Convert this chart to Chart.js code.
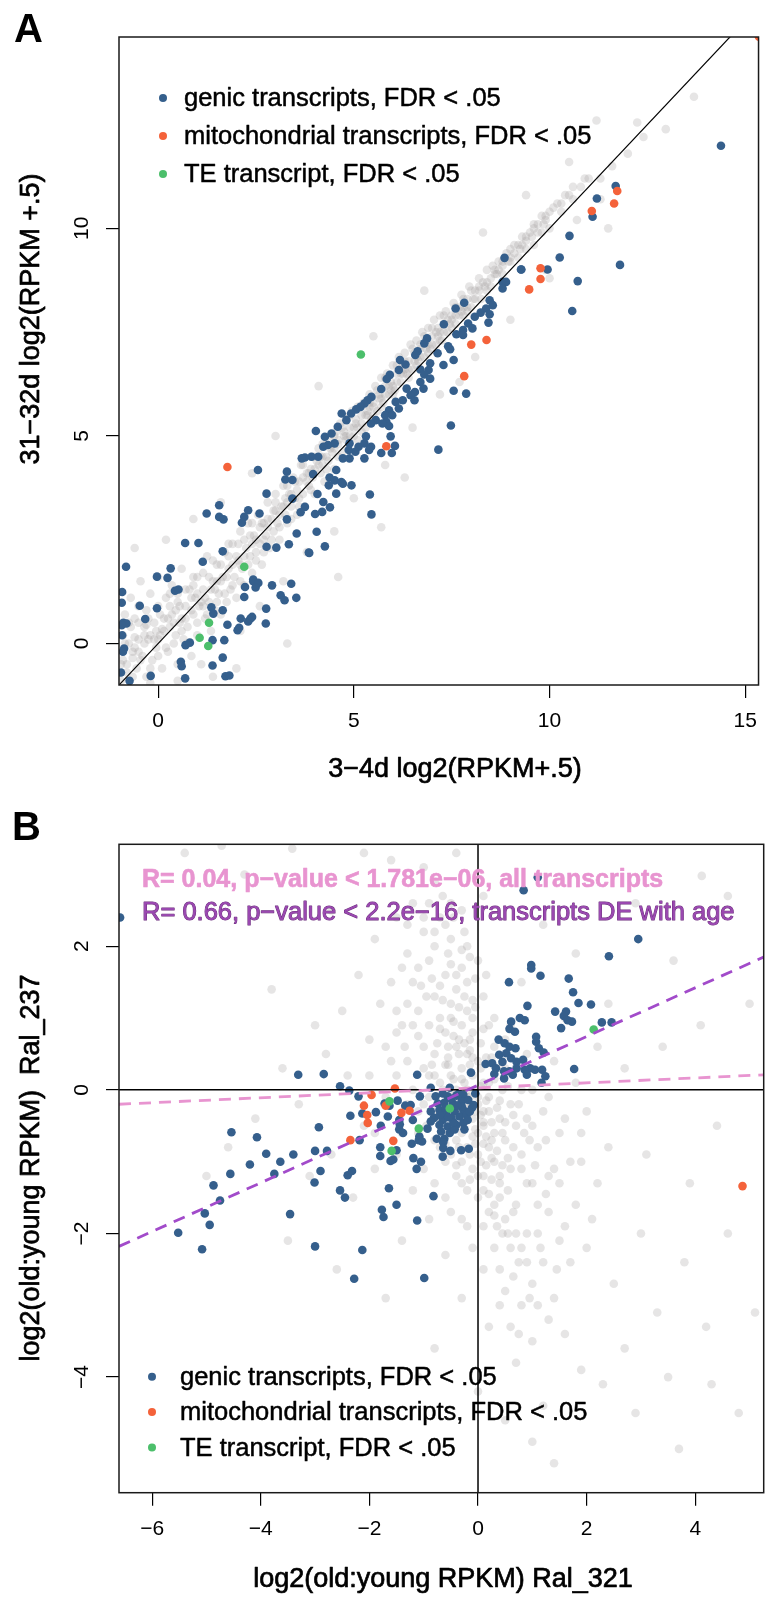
<!DOCTYPE html>
<html>
<head>
<meta charset="utf-8">
<script src="https://cdn.jsdelivr.net/npm/chart.js@4.4.0/dist/chart.umd.min.js"></script>
<style>
  body { margin: 0; background: #fff; width: 768px; height: 1599px; position: relative; overflow: hidden; }
  canvas { position: absolute; left: 0; }
  #chartA { top: 0; }
  #chartB { top: 800px; }
</style>
</head>
<body>
<canvas id="chartA" width="768" height="800"></canvas>
<canvas id="chartB" width="768" height="799"></canvas>
<script>
const FONT = '"Liberation Sans", Arial, Helvetica, sans-serif';
const MINUS = '\u2212';

const BLUE = '#355f8c';
const ORANGE = '#f4623a';
const GREEN = '#4cbf6b';
const GREY = 'rgba(166,162,162,0.28)';
const PINK = '#e894d0';
const PURPLE = '#a24bca';

const legendLabels = ['genic transcripts, FDR < .05', 'mitochondrial transcripts, FDR < .05', 'TE transcript, FDR < .05'];

// ---------- panel A : 3-4d vs 31-32d ----------
const xTicksA = [0, 5, 10, 15];
const yTicksA = [0, 5, 10];
const xTitleA = '3\u22124d log2(RPKM+.5)';
const yTitleA = '31\u221232d log2(RPKM +.5)';

const diagA = [[-1, -1], [15.4, 15.4]];

const genicA = [
  [8.85,9.29],[9.28,9.01],[8.80,8.71],[8.89,8.71],[8.80,8.55],[7.82,8.21],[7.60,8.07],[8.47,8.27],[8.55,8.15],[8.38,8.07],
  [8.24,7.97],[8.09,7.87],[8.47,7.93],[7.92,7.71],[8.03,7.59],[7.79,7.55],[8.44,7.73],[7.30,7.69],[7.62,7.45],[7.79,7.43],
  [6.87,7.35],[6.80,7.23],[7.41,7.16],[7.46,7.09],[7.14,6.99],[6.63,7.04],[6.57,6.95],[7.55,6.83],[6.95,6.75],[6.18,6.83],
  [6.32,6.72],[6.15,6.59],[6.70,6.60],[6.91,6.59],[7.29,6.71],[6.80,6.48],[6.95,6.38],[5.92,6.47],[5.84,6.37],[6.70,6.30],
  [6.78,6.14],[6.56,6.06],[6.35,6.14],[6.45,5.98],[6.25,5.86],[6.55,5.86],[5.70,6.13],[7.55,6.09],[7.87,6.02],[5.45,5.94],
  [5.35,5.86],[5.27,5.78],[5.17,5.70],[5.06,5.64],[4.93,5.54],[4.81,5.38],[4.69,5.54],[4.59,5.22],[4.43,5.06],[4.26,4.98],
  [4.03,5.12],[6.07,5.82],[6.15,5.66],[5.90,5.62],[5.80,5.50],[5.98,5.50],[5.83,5.34],[5.90,5.24],[5.56,5.38],[5.44,5.30],
  [5.73,5.30],[7.48,5.25],[5.94,4.99],[6.05,4.76],[5.97,4.59],[5.70,4.59],[7.16,4.67],[5.31,4.99],[5.27,4.82],[5.44,4.74],
  [5.39,4.66],[5.12,4.74],[5.04,4.62],[5.27,4.46],[4.89,4.82],[4.87,4.66],[4.89,4.46],[4.72,4.46],[4.51,4.82],[4.34,4.78],
  [4.22,4.74],[4.09,4.50],[3.92,4.50],[3.75,4.48],[3.67,4.46],[3.96,4.08],[4.55,4.18],[4.38,4.00],[4.51,3.93],[4.68,3.89],
  [4.72,3.85],[4.36,3.81],[4.94,3.81],[3.29,4.14],[3.25,3.95],[3.43,3.94],[2.55,4.18],[2.77,3.61],[3.43,3.49],[4.07,3.60],
  [4.55,3.61],[4.22,3.41],[4.39,3.28],[5.41,3.59],[5.45,3.11],[4.19,3.17],[4.01,3.12],[3.75,3.29],[3.64,3.16],[3.29,2.99],
  [2.59,3.13],[2.30,3.21],[2.20,3.05],[2.14,2.91],[1.56,3.33],[1.56,3.05],[1.67,2.99],[1.24,3.13],[3.54,2.65],[4.05,2.69],
  [2.77,2.33],[3.02,2.31],[3.34,2.39],[3.85,2.19],[4.26,2.34],[1.65,2.22],[1.03,2.42],[0.69,2.42],[1.14,1.97],[0.32,1.81],
  [-0.03,1.61],[0.24,1.58],[-0.82,1.85],[2.43,1.54],
  [14.38,11.99],[11.69,11.02],[11.21,10.72],[11.10,10.28],[10.51,9.82],[10.26,9.30],[11.80,9.12],[9.95,9.01],[9.27,9.01],
  [10.72,8.73],[10.58,8.01],
  [-0.92,1.24],[-0.93,0.98],[-0.47,0.91],[-0.03,0.85],[-0.33,0.59],[-0.89,0.50],[-0.81,0.48],[-0.93,0.44],[-0.92,0.20],
  [-0.87,-0.12],[-0.90,-0.20],[-0.95,-0.70],[-0.73,-0.90],[-0.19,-0.78],[0.43,1.27],[0.52,1.30],[1.36,0.87],[1.41,0.72],
  [1.65,0.80],[2.11,0.60],[2.30,0.53],[2.36,0.60],[2.40,0.64],[1.77,0.45],[2.03,0.32],[2.07,0.38],[2.76,0.84],[2.75,0.48],
  [2.22,1.36],[2.43,1.50],[2.56,1.46],[2.49,1.35],[2.20,1.12],[2.91,1.40],[3.40,1.44],[3.13,1.16],[3.23,1.04],[3.53,1.10],
  [3.86,2.18],[0.70,-0.04],[0.81,0.02],[1.39,0.08],[1.69,0.08],[0.58,-0.44],[0.60,-0.55],[1.39,-0.53],[1.65,-0.34],
  [1.72,-0.79],[1.82,-0.77],[0.69,-0.84]
];

const mitoA = [
  [15.35,14.62],[11.73,10.90],[11.65,10.60],[11.08,10.42],[9.77,9.04],[9.77,8.78],[9.48,8.53],[8.39,7.31],[8.00,7.20],
  [7.82,6.44],[5.83,4.75],[1.77,4.25]
];

const teA = [[5.18,6.96],[2.20,1.85],[1.30,0.50],[1.06,0.14],[1.28,-0.06]];

const greyA = [
  [-0.95,-0.9],[-0.9,-0.4],[-0.9,0.2],[-0.85,0.7],[-0.8,-0.7],[-0.75,0.0],[-0.7,0.4],[-0.7,1.1],[-0.65,-0.2],[-0.6,0.6],
  [-0.55,-0.6],[-0.5,0.1],[-0.5,0.9],[-0.45,1.5],[-0.4,-0.3],[-0.35,0.4],[-0.3,-0.8],[-0.3,0.8],[-0.25,0.1],[-0.2,1.2],
  [-0.15,-0.4],[-0.1,0.5],[-0.05,-0.1],[0,0.9],[0,1.6],[0.05,0.2],[0.1,-0.6],[0.15,0.6],[0.2,1.1],[0.25,-0.2],
  [0.3,0.4],[0.35,1.4],[0.4,0.0],[0.45,0.8],[0.5,-0.5],[0.5,1.2],[0.55,0.5],[0.6,1.8],[0.65,0.1],[0.7,0.9],
  [0.75,0.4],[0.8,1.3],[0.85,-0.3],[0.9,0.7],[0.95,1.1],[1.0,0.2],[1.0,1.6],[1.05,0.9],[1.1,-0.5],[1.15,1.3],
  [1.2,0.6],[1.25,2.1],[1.3,1.0],[1.35,0.3],[1.4,1.5],[1.45,0.8],[1.5,1.9],
  [1.55,1.2],[1.6,0.7],[1.65,1.6],[1.7,2.2],[1.75,1.0],[1.8,1.8],[1.85,1.3],[1.9,2.4],[1.95,1.6],[2.0,1.1],
  [2.05,2.0],[2.1,2.7],[2.15,1.8],[2.2,1.4],[2.25,2.3],[2.3,2.9],[2.35,2.1],[2.4,1.7],[2.45,2.6],[2.5,2.2],
  [2.55,3.1],[2.6,2.4],[2.65,1.9],[2.7,2.9],[2.75,2.6],[2.8,3.4],[2.85,2.3],[2.9,3.0],[2.95,2.7],[3.0,3.6],
  [3.05,2.9],[3.1,2.5],[3.15,3.3],[3.2,3.8],[3.25,3.1],[3.3,2.9],[3.35,3.6],[3.4,3.3],[3.45,4.0],[3.5,3.5],
  [3.55,3.1],[3.6,3.9],[3.65,4.3],[3.7,3.6],[3.75,3.3],[3.8,4.1],[3.85,3.8],[3.9,4.5],[3.95,4.0],[4.0,3.6],
  [4.05,4.4],[4.1,4.7],[4.15,4.1],[4.2,4.5],[4.25,3.9],[4.3,4.8],[4.35,4.4],[4.4,5.0],[4.45,4.6],[4.5,4.2],
  [4.55,5.1],[4.6,4.8],[4.65,5.3],[4.7,4.6],[4.75,5.0],[4.8,5.4],[4.85,4.7],[4.9,5.2],[4.95,5.6],[5.0,5.0],
  [5.05,5.4],[5.1,4.9],[5.15,5.7],[5.2,5.3],[5.25,5.8],[5.3,5.2],[5.35,5.6],[5.4,6.0],[5.45,5.4],[5.5,5.8],
  [5.55,6.2],[5.6,5.6],[5.65,6.0],[5.7,6.4],[5.75,5.8],[5.8,6.2],[5.85,6.5],[5.9,6.0],[5.95,6.3],[6.0,6.7],
  [6.05,6.1],[6.1,6.5],[6.15,6.9],[6.2,6.3],[6.25,6.7],[6.3,7.0],[6.35,6.5],[6.4,6.8],[6.45,7.2],[6.5,6.6],
  [6.55,7.0],[6.6,7.3],[6.65,6.8],[6.7,7.1],[6.75,7.5],[6.8,6.9],[6.85,7.3],[6.9,7.6],[6.95,7.1],[7.0,7.4],
  [7.05,7.8],[7.1,7.2],[7.15,7.6],[7.2,7.9],[7.25,7.3],[7.3,7.7],[7.35,8.0],[7.4,7.5],[7.5,7.9],[7.55,8.2],
  [7.6,7.7],[7.7,8.1],[7.75,8.4],[7.8,7.9],[7.9,8.3],[7.95,8.6],[8.0,8.1],
  [8.1,8.5],[8.2,8.8],[8.25,8.3],[8.3,8.7],[8.4,9.0],[8.5,8.6],[8.55,9.1],[8.6,8.9],[8.7,9.2],[8.8,8.9],
  [8.9,9.4],[9.0,9.2],[9.1,9.6],[9.2,9.3],[9.3,9.8],[9.4,9.5],[9.5,9.9],[9.6,9.6],[9.7,10.1],[9.8,9.9],
  [9.9,10.3],[10.0,10.0],[10.1,10.5],[10.3,10.4],[10.4,10.8],[10.6,10.7],[10.8,11.0],[11.0,11.2],[11.3,11.2],[11.6,11.5],
  [12.0,11.8],[12.4,12.2],[12.97,12.39],[12.24,12.55],[13.69,13.17],[11.3,10.7],[10.7,10.2],
  [-0.6,2.3],[0.2,2.5],[0.9,3.0],[1.6,3.4],[2.4,4.1],[1.4,-0.8],[2.1,0.3],[2.6,0.9],[3.2,1.5],[3.8,2.2],
  [4.5,2.7],[5.0,3.5],[5.8,4.3],[6.5,5.2],[7.2,6.0],[8.1,6.9],[9.0,7.8],[10.0,8.8],[11.5,10.0],[3.0,5.0],
  [4.1,6.2],[5.5,7.4],[6.8,8.5],[8.3,9.9],[9.4,10.8],[10.5,11.6],[11.2,12.6],[2.0,-0.6],[3.3,0.0],[4.6,1.6],
  [5.7,2.8],[0.5,-0.9],[-0.2,-0.95],[7.7,6.3],[9.9,9.0],[6.3,4.0],
  [-0.8,-0.5],[-0.65,-0.35],[-0.5,-0.2],[-0.35,0.0],[-0.2,0.2],[-0.05,0.3],[0.1,0.35],[0.25,0.6],[0.4,0.5],[0.55,0.9],
  [0.7,0.6],[0.85,1.1],[1.0,1.2],[1.15,0.9],[1.3,1.6],[1.45,1.3],[1.6,1.9],[1.75,1.6],[1.9,1.9],[2.05,2.4],
  [2.2,2.1],[2.35,2.6],[2.5,2.5],[2.65,2.9],[2.8,2.8],[2.95,3.2],[3.1,3.1],[3.25,3.5],[3.4,3.6],[3.55,3.7],
  [3.7,4.0],[3.85,4.1],[4.0,4.2],[4.15,4.5],[4.3,4.5],[4.45,4.8],[4.6,4.9],[4.75,5.1],[4.9,5.0],[5.05,5.3],
  [5.2,5.5],[5.35,5.5],[5.5,5.7],[5.65,5.9],[5.8,6.0],[5.95,6.1],[6.1,6.3],[6.25,6.5],[6.4,6.6],[6.55,6.8],
  [6.7,6.9],[6.85,7.1],[7.0,7.2],[7.15,7.4],[7.3,7.5],[7.45,7.7],[7.6,7.9],[7.75,8.0],[7.9,8.1],[8.05,8.3],
  [8.2,8.5],[8.35,8.6],[8.5,8.8],[8.65,8.9],[8.8,9.1],[8.95,9.2],[9.1,9.4],[9.25,9.5],[9.4,9.7],[9.55,9.8],
  [9.7,9.9],[9.85,10.1],
  [-0.6,0.15],[-0.3,0.45],[0.0,0.1],[0.3,0.9],[0.6,0.3],[0.9,1.4],[1.2,1.1],[1.5,1.5],[1.8,2.1],[2.1,1.9],
  [2.4,2.4],[2.7,2.5],[3.0,3.2],[3.3,3.4],[3.6,3.5],[3.9,4.2],[4.2,4.3],[4.5,4.7],[4.8,5.0],[5.1,5.2],
  [5.4,5.7],[5.7,5.9],[6.0,6.2],[6.3,6.6],[6.6,6.9],[6.9,7.2],[7.2,7.5],[7.5,7.8],[7.8,8.1],[8.1,8.3],
  [8.4,8.7],[8.7,9.0],[9.0,9.3],[9.3,9.6],[9.6,10.0],[9.9,10.2],[10.2,10.6],[10.5,10.8],
  [-0.95,-0.5],[-0.85,0.0],[-0.75,0.5],[-0.65,-0.8],[-0.6,-0.1],[-0.5,0.5],[-0.45,-0.4],[-0.35,0.2],[-0.25,0.6],[-0.2,-0.6],
  [-0.1,0.1],[0.0,-0.3],[0.05,0.7],[0.15,0.3],[0.2,-0.1],[0.3,1.2],[0.35,0.7],[0.45,0.2],[0.5,1.0],[0.6,0.6],
  [0.7,1.3],[0.75,0.0],[0.85,0.8],[0.9,1.6],[1.0,0.5],[1.1,1.0],[1.15,1.7],[1.25,0.7],[1.35,1.3],[1.4,2.0],
  [1.5,1.0],[1.6,1.5],[1.7,1.2],[1.8,2.4],[1.9,1.4],[2.0,2.1],[2.1,1.5],[2.2,2.5],[2.3,1.9],[2.4,2.9],
  [2.5,2.0],[2.6,2.8],[2.7,2.2],[2.8,3.0],[2.9,2.5],[3.0,3.4],[3.1,2.8],[3.2,3.3],[3.3,3.8],[3.4,3.0],
  [3.5,3.9],[3.6,3.3],[3.7,4.3],[3.8,3.9],[3.9,3.7],[4.0,4.5],[4.1,4.3],[4.2,4.8],[4.3,4.2],[4.4,4.7],
  [4.5,5.0],[4.6,4.5],[4.7,5.2],[4.8,4.9],[4.9,5.5],[5.0,5.2],[5.1,5.7],[5.2,5.1],[5.3,5.5],[5.4,5.8],
  [5.5,5.5],[5.6,6.1],[5.7,5.7],[5.8,6.4],[5.9,6.2],[6.0,6.0],[6.1,6.7],[6.2,6.5],[6.3,6.8],[6.4,6.4],
  [6.5,7.1],[6.6,6.7],[6.7,7.2],[6.8,7.4],[6.9,7.0],[7.0,7.6],[7.1,7.5],[7.2,7.3],[7.3,7.9],[7.4,7.8],
  [7.5,7.6],[7.6,8.1],[7.7,7.9],[7.8,8.3],[7.9,8.0],[8.0,8.5],[8.2,8.6],[8.4,8.5],[8.6,9.0],[8.8,9.2],
  [9.0,9.5],[9.2,9.6],[9.4,9.8],[9.6,10.1],[9.8,10.3],[10.0,10.4],[10.3,10.6],[10.6,11.0],[10.9,11.2]
];

// ---------- panel B : old:young Ral_321 vs Ral_237 ----------
const xTicksB = [-6, -4, -2, 0, 2, 4];
const yTicksB = [-4, -2, 0, 2];
const xTitleB = 'log2(old:young RPKM) Ral_321';
const yTitleB = 'log2(old:young RPKM)  Ral_237';
const statAll = 'R= 0.04, p\u2212value < 1.781e\u221206, all transcripts';
const statDE = 'R= 0.66, p\u2212value < 2.2e\u221216, transcripts DE with age';

const zeroH = [[-7, 0], [6, 0]];
const zeroV = [[0, -6], [0, 4]];
const fitAll = [[-6.61, -0.20], [5.26, 0.21]];
const fitDE = [[-6.61, -2.18], [5.26, 1.85]];

const genicB = [
  [2.95,2.10],[2.41,1.86],[0.98,1.74],[0.98,1.69],[1.15,1.59],[0.57,1.50],[1.67,1.55],[1.75,1.36],[1.85,1.21],[2.08,1.19],
  [0.91,1.17],[1.42,1.09],[1.62,1.09],[1.58,1.03],[1.65,0.97],[1.73,0.95],[2.28,0.94],[2.46,0.94],[0.61,0.95],[0.77,1.00],
  [0.86,0.97],[0.58,0.85],[0.68,0.81],[1.53,0.86],[1.07,0.74],[1.07,0.67],[1.12,0.58],[1.21,0.52],[0.38,0.70],[0.49,0.65],
  [0.58,0.60],[0.69,0.58],[0.39,0.49],[0.52,0.51],[0.61,0.44],[0.45,0.39],[0.26,0.37],[0.14,0.36],[0.71,0.39],[0.83,0.42],
  [0.96,0.30],[0.86,0.28],[1.05,0.28],[1.18,0.28],[0.33,0.30],[0.48,0.26],[0.58,0.26],[0.71,0.30],[0.30,0.22],[0.48,0.16],
  [0.64,0.21],[0.90,0.21],[1.24,0.19],[1.77,0.29],[1.17,0.10],[-0.13,0.24],[-1.12,0.21],[-2.84,0.22],[-3.31,0.21],[-2.54,0.05],
  [-2.37,-0.01],[-2.20,-0.09],
  [-0.87,0.03],[-0.52,0.03],[-0.65,-0.05],[-0.78,-0.09],[-0.56,-0.09],[-0.40,-0.08],[-0.27,-0.07],[-0.05,-0.05],[-1.07,-0.09],
  [-0.74,-0.19],[-0.62,-0.18],[-0.46,-0.19],[-0.30,-0.16],[-0.18,-0.14],[-0.08,-0.21],[-0.87,-0.30],[-0.71,-0.28],[-0.59,-0.32],
  [-0.43,-0.30],[-0.27,-0.28],[-0.11,-0.25],[-0.81,-0.39],[-0.65,-0.42],[-0.49,-0.39],[-0.34,-0.37],[-0.21,-0.35],[-0.71,-0.49],
  [-0.56,-0.51],[-0.40,-0.49],[-0.27,-0.46],[-0.68,-0.58],[-0.52,-0.60],[-0.43,-0.55],[-0.93,-0.54],[-0.87,-0.44],[-0.30,-0.23],
  [-0.19,-0.42],[-0.60,-0.25],[-0.50,-0.12],[-0.35,-0.05],[-0.70,-0.35],[-0.45,-0.45],[-0.25,-0.55],[-0.15,-0.30],[-0.55,-0.38],
  [-0.38,-0.22],[-0.62,-0.68],
  [-1.48,-0.15],[-1.34,-0.22],[-1.24,-0.21],[-1.63,-0.22],[-1.72,-0.19],[-1.88,-0.31],[-1.66,-0.37],[-1.45,-0.42],[-1.44,-0.48],
  [-1.45,-0.55],[-1.38,-0.60],[-1.20,-0.42],[-1.08,-0.65],[-1.09,-0.70],[-1.03,-0.72],[-1.22,-0.75],[-1.79,-0.50],[-2.18,-0.70],
  [-2.35,-0.36],[-2.13,-0.33],[-1.80,-0.80],[-1.80,-0.92],[-1.50,-0.84],[-1.56,-0.97],[-1.61,-0.99],[-1.19,-0.95],[-1.05,-1.00],
  [-1.13,-1.10],[-0.64,-0.73],[-0.64,-0.81],[-0.65,-0.93],[-0.51,-0.85],[-0.31,-0.84],[-0.17,-0.82],[-0.76,-0.68],
  [-2.93,-0.52],[-4.54,-0.59],[-4.07,-0.66],[-3.90,-0.89],[-3.64,-1.00],[-3.40,-0.90],[-3.00,-0.85],[-2.78,-0.85],[-4.20,-1.04],
  [-4.56,-1.17],[-3.75,-1.17],[-2.90,-1.13],[-3.01,-1.29],[-4.87,-1.33],[-4.75,-1.54],[-5.03,-1.72],[-4.94,-1.88],[-5.52,-1.99],
  [-5.08,-2.22],[-3.46,-1.73],[-3.00,-2.18],[-2.54,-1.40],[-2.45,-1.50],[-2.40,-1.19],[-2.32,-1.13],[-2.13,-2.23],[-1.64,-1.37],
  [-1.50,-1.60],[-1.77,-1.67],[-1.74,-1.77],[-1.12,-1.82],[-0.82,-1.48],[-2.28,-2.63],[-0.99,-2.62],[-6.59,2.40],[1.10,2.96],
  [0.84,2.78]
];

const mitoB = [
  [-1.53,0.02],[-1.96,-0.07],[-2.10,-0.22],[-2.04,-0.35],[-2.03,-0.46],[-1.70,-0.22],[-1.41,-0.32],[-1.26,-0.29],
  [-2.35,-0.70],[-1.56,-0.71],[4.87,-1.34]
];

const teB = [[-1.63,-0.16],[-0.52,-0.26],[-1.09,-0.54],[-1.59,-0.85],[2.13,0.84]];

const greyB = [
  [-0.3,-0.3],[-0.2,-0.1],[-0.1,-0.4],[0,-0.2],[0.1,-0.5],[0.2,-0.3],[-0.4,0],[-0.5,0.2],[-0.3,0.3],[-0.2,0.5],
  [-0.1,0.2],[0,0.4],[0.1,0.1],[0.2,-0.1],[0.3,-0.6],[0.4,-0.4],[-0.6,-0.2],[-0.7,0.1],[-0.5,-0.5],[-0.4,-0.7],
  [-0.2,-0.8],[0,-0.9],[0.2,-0.8],[0.3,-1.0],[0.5,-0.7],[0.6,-1.1],[0.4,-1.3],[0.1,-1.2],[-0.1,-1.1],[-0.3,-1.0],
  [-0.4,0.6],[-0.6,0.8],[-0.3,0.9],[-0.1,0.8],[-0.8,0.5],[-0.9,0.2],[-0.7,-0.4],[-0.2,1.1],[-0.5,1.2],[-0.7,1.0],
  [-0.9,0.9],[-1.0,0.6],[-0.4,1.4],[-0.6,1.6],[-0.3,1.7],[-0.8,1.3],[-1.1,1.1],[-0.2,2.0],[-0.5,2.1],[-0.9,1.8],
  [-1.2,1.5],[-0.7,2.4],[-0.3,2.5],[-1.0,2.2],[0.1,1.3],[0.2,0.9],[0.0,1.8],[0.3,0.6],[0.5,0.3],[0.6,-0.2],
  [0.7,-0.5],[0.8,-0.9],[0.9,-1.3],[0.7,-1.6],[0.5,-1.8],[0.3,-1.6],[0.1,-1.9],[0.6,-2.2],[0.9,-2.0],[1.1,-1.6],
  [1.2,-2.4],[1.0,-2.7],[0.8,-3.0],[1.4,-2.9],[1.5,-2.1],[0.4,-2.5],[1.3,-1.2],[1.1,-0.8],[0.9,-0.4],[1.0,0.0],
  [1.2,-0.3],[1.5,-0.6],[1.7,-1.0],[1.8,-1.6],[2.0,-2.2],[1.6,-3.4],[2.2,-1.3],[2.4,-0.8],[2.0,-0.3],[1.8,0.1],
  [-0.25,-0.45],[-0.15,-0.25],[-0.05,-0.55],[0.05,-0.35],[0.15,-0.65],[-0.35,-0.15],[-0.45,0.15],[-0.15,0.35],[0.05,0.05],[0.25,-0.45],
  [-0.05,-0.75],[0.15,-1.05],[-0.25,0.65],[-0.55,0.45],[-0.35,1.15],[0.35,-0.85],[0.45,-1.05],[-0.65,0.0],[-0.1,1.0],[-0.45,0.95],
  [-1.5,0.8],[-1.8,1.2],[-1.3,1.9],[-1.6,0.4],[-2.0,0.7],[-1.2,2.6],[-0.8,2.9],[-1.5,2.4],[-2.2,1.6],[-1.9,2.1],
  [-2.5,1.1],[-2.8,0.5],[-1.1,-0.3],[-1.4,-0.6],[-1.7,-0.1],[-2.1,-0.5],[-2.4,0.2],[-3.0,0.9],[-3.3,-0.2],[-2.7,-0.9],
  [-1.9,-1.1],[-1.2,-1.4],[-0.9,-1.8],[-1.4,-2.1],[-0.6,-2.3],[-2.3,-1.5],[-3.1,-1.2],[-3.6,0.3],[-4.1,-0.4],[-4.6,-0.8],
  [-5.0,-1.2],[-3.8,1.4],[-2.7,2.5],[-1.6,3.2],[-0.4,3.3],[-1.0,3.1],[-4.3,3.0],[-2.1,3.3],[-3.42,3.36],[-5.4,3.3],
  [-4.72,3.4],[4.12,2.98],
  [2.5,-2.7],[3.0,-2.0],[3.3,-3.1],[2.7,-3.6],[3.8,-2.4],[4.2,-3.3],[3.5,-4.0],[4.6,-2.0],[2.9,-4.5],[2.3,-4.1],
  [1.9,-3.9],[1.2,-4.4],[0.7,-3.8],[0.2,-3.3],[-0.3,-2.9],[0.0,-4.2],[3.9,-1.3],[4.4,-0.5],[3.1,-0.9],[2.7,0.3],
  [3.4,0.6],[4.1,0.9],[5.0,1.2],[4.6,2.7],[3.6,1.8],[2.4,1.2],[1.8,1.9],[2.9,2.6],[4.8,-4.5],[3.7,-5.0],
  [1.4,-5.2],[4.3,-4.1],[5.1,-3.1],[1.0,-4.9],[0.5,-4.6],[-0.8,-3.6],[-1.7,-2.9],[-2.6,-2.5],[-3.5,-2.1],[-1.1,-4.0],
  [0.1,2.7],[1.2,2.3],[0.8,1.5],[1.6,1.0],[2.2,0.6],[0.6,0.9],[1.4,0.4],[0.9,0.5],[1.9,-0.6],
  [-0.3,-0.6],[-0.1,-0.65],[0.1,-0.75],[0.25,-0.95],[0.4,-1.2],[0.55,-1.4],[0.2,-1.45],[0.0,-1.5],[0.35,-1.9],[0.65,-1.7],
  [0.75,-2.4],[0.5,-2.8],[0.9,-2.4],[-0.2,-1.4],[-0.4,-1.2],[-0.6,-1.0],[-0.8,-0.7],[-0.9,-0.1],[-0.8,0.2],[-0.6,0.35],
  [-0.35,0.5],[-0.15,0.7],[0.05,0.65],[0.15,0.45],[0.3,0.15],[0.4,-0.15],[0.5,-0.45],[0.65,-0.8],[0.8,-1.1],[1.0,-1.3],
  [-0.45,0.75],[-0.65,1.25],[-0.85,1.55],[-0.5,1.75],[-0.2,1.5],[-0.1,1.25],[-0.3,1.95],[-0.6,2.3],[-1.3,1.2],[-1.1,0.75],
  [-1.3,0.4],[-1.2,0.0],[-1.0,-0.2],[-0.95,-0.5],[-0.7,-0.8],[-0.5,-0.9],[-0.3,-1.3],[0.0,-1.2],[0.2,-1.7],[0.45,-2.0],
  [0.7,-2.0],[1.1,-2.0],[1.3,-1.7],[1.4,-1.1],[1.25,-0.7],[0.95,-0.7],[0.75,-0.2],[0.55,0.05],[0.35,0.3],[-0.05,0.0],
  [-0.25,0.1],[-0.4,-0.3],[-0.2,-0.4],[0.0,-0.6],[0.1,-0.3],[-0.15,-0.1],[0.15,-0.15],[-0.35,-0.5],[-0.55,0.6],[-0.75,0.65],
  [-0.95,1.3],[-1.4,0.9],[-1.6,1.5],[-1.1,1.7],[-0.8,2.0],[-1.3,2.3],[-0.5,2.6],[-0.9,2.6],[0.3,1.0],[0.5,0.7],
  [0.7,0.3],[1.3,-0.1],[1.6,-0.4],[1.9,-1.0],[2.1,-1.8],[1.7,-2.4],[1.3,-3.2],[1.0,-3.5],[0.6,-3.3],[0.3,-2.2],
  [-0.1,-2.2],[-0.3,-1.8],[-0.6,-1.5],[-1.0,-1.1],[-1.5,-0.9],[-1.9,-0.6],[-2.0,0.2],[-1.7,0.6],
  [-0.45,-0.05],[-0.25,-0.2],[-0.05,-0.3],[0.1,-0.45],[0.25,-0.7],[-0.55,0.35],[-0.35,0.7],[-0.15,0.55],[0.05,0.3],[0.2,0.1],
  [0.35,-0.25],[0.45,-0.6],[0.55,-0.95],[0.4,-1.5],[0.25,-1.25],[0.05,-1.0],[-0.15,-0.9],[-0.35,-0.8],[-0.55,-0.6],[-0.75,-0.2],
  [-0.85,0.35],[-0.7,0.85],[-0.5,1.0],[-0.25,1.3],[-0.05,1.55],[-0.4,1.6],[-0.7,1.45],[-0.55,1.9],[-0.25,2.2],[-0.8,2.2],
  [-1.05,1.45],[-1.2,0.9],[-1.0,0.3],[-0.85,-0.3],[-0.6,-0.75],[-0.4,-1.05],[-0.15,-1.25],[0.1,-1.4],[0.3,-1.75],[0.55,-2.0],
  [0.8,-2.2],[0.65,-2.6],[0.95,-2.9],[1.15,-2.2],[1.25,-1.45],[1.05,-1.05],[0.85,-0.6],[0.65,-0.35],[0.45,0.0],[0.25,0.45],
  [0.1,0.85],[-0.05,1.15],[0.15,1.6],[-0.15,1.85],[-0.45,2.4],[-0.65,2.7],[-1.0,2.4],[-1.4,1.7],[-1.5,1.1],[-1.35,0.6],
  [-1.5,0.2],[-1.3,-0.2],[-1.1,-0.6],[-0.8,-1.3],[-0.5,-1.7],[-0.2,-1.9],[0.1,-2.5],[0.4,-3.0],[0.75,-3.4],[1.1,-3.0],
  [1.45,-2.5],[1.6,-1.9],[1.5,-1.3],[1.0,-0.5],[0.8,0.0],[-0.2,0.0],[-0.35,-0.35],[0.0,-0.1],[-0.1,0.45],[-0.3,0.15]
];

function pts(list) { return list.map(p => ({ x: p[0], y: p[1] })); }
function fmt(v) { return String(v).replace('-', MINUS); }

function dots(label, list, color, order) {
  return { label, data: pts(list), backgroundColor: color, borderWidth: 0, pointRadius: 4.3, order, clip: 0 };
}
function line(label, list, color, width, dash, order) {
  return { label, data: pts(list), showLine: true, borderColor: color, borderWidth: width, borderDash: dash,
           pointRadius: 0, fill: false, order, clip: 0 };
}

// heavier text, close to the R/Quartz rendering
function heavyText(ctx, text, x, y, color, w) {
  ctx.fillStyle = color;
  ctx.strokeStyle = color;
  ctx.lineWidth = w;
  ctx.lineJoin = 'round';
  ctx.strokeText(text, x, y);
  ctx.fillText(text, x, y);
}

// frame, titles, legend and annotations
const decor = {
  id: 'decor',
  afterDatasetsDraw(chart, args, o) {
    const { ctx, chartArea: a } = chart;
    ctx.save();
    ctx.strokeStyle = '#1a1a1a';
    ctx.lineWidth = 1.5;
    ctx.strokeRect(a.left, a.top, a.right - a.left, a.bottom - a.top);

    ctx.fillStyle = '#000';
    ctx.textAlign = 'left';
    ctx.textBaseline = 'alphabetic';
    ctx.font = 'bold 40px ' + FONT;
    ctx.fillText(o.letter[0], o.letter[1], o.letter[2]);

    ctx.font = '27px ' + FONT;
    ctx.textAlign = 'center';
    ctx.textBaseline = 'middle';
    heavyText(ctx, o.xTitle[0], o.xTitle[1], o.xTitle[2], '#000', 0.7);
    ctx.save();
    ctx.translate(o.yTitle[1], o.yTitle[2]);
    ctx.rotate(-Math.PI / 2);
    heavyText(ctx, o.yTitle[0], 0, 0, '#000', 0.7);
    ctx.restore();

    // legend
    const colors = [BLUE, ORANGE, GREEN];
    ctx.font = '25.5px ' + FONT;
    ctx.textAlign = 'left';
    legendLabels.forEach((t, i) => {
      const y = o.legend.y[i];
      ctx.fillStyle = colors[i];
      ctx.beginPath();
      ctx.arc(o.legend.dotX, y, 4, 0, Math.PI * 2);
      ctx.fill();
      heavyText(ctx, t, o.legend.textX, y + 1, '#000', 0.5);
    });

    (o.notes || []).forEach(n => {
      ctx.font = n.font;
      if (n.stroke) {
        ctx.strokeStyle = n.stroke;
        ctx.lineWidth = 1;
        ctx.strokeText(n.text, n.x, n.y);
        ctx.fillStyle = n.color;
        ctx.fillText(n.text, n.x, n.y);
      } else {
        heavyText(ctx, n.text, n.x, n.y, n.color, 0.6);
      }
    });
    ctx.restore();
  }
};

function axes(xr, yr, xt, yt, xh) {
  const tickFont = { family: FONT, size: 21 };
  return {
    x: {
      type: 'linear', min: xr[0], max: xr[1],
      afterBuildTicks: s => { s.ticks = xt.map(v => ({ value: v })); },
      afterFit: s => { s.height = xh; },
      border: { display: false },
      grid: { drawOnChartArea: false, drawTicks: true, tickLength: 13, color: '#000', lineWidth: 1.2 },
      ticks: { color: '#000', font: tickFont, padding: 11, autoSkip: false, maxRotation: 0, callback: v => fmt(v) }
    },
    y: {
      type: 'linear', min: yr[0], max: yr[1],
      afterBuildTicks: s => { s.ticks = yt.map(v => ({ value: v })); },
      afterFit: s => { s.width = 119; },
      border: { display: false },
      grid: { drawOnChartArea: false, drawTicks: true, tickLength: 13, color: '#000', lineWidth: 1.2 },
      ticks: { color: '#000', font: tickFont, padding: 12, autoSkip: false, minRotation: 90, maxRotation: 90,
               crossAlign: 'center', callback: v => fmt(v) }
    }
  };
}

const common = {
  responsive: false,
  animation: false,
  events: [],
};

new Chart(document.getElementById('chartA'), {
  type: 'scatter',
  data: {
    datasets: [
      line('y = x', diagA, '#000', 1.2, [], 0),
      dots('TE transcript', teA, GREEN, 1),
      dots('mitochondrial transcripts', mitoA, ORANGE, 2),
      dots('genic transcripts', genicA, BLUE, 3),
      dots('all transcripts', greyA, GREY, 4)
    ]
  },
  options: {
    ...common,
    layout: { padding: { left: 0, top: 37, right: 2, bottom: 0 } },
    scales: axes([-1.0, 15.34], [-1.0, 14.61], xTicksA, yTicksA, 115),
    plugins: {
      legend: { display: false },
      tooltip: { enabled: false },
      decor: {
        letter: ['A', 14, 42],
        xTitle: [xTitleA, 455, 770],
        yTitle: [yTitleA, 31.5, 319],
        legend: { dotX: 163, textX: 184, y: [98, 136, 174] }
      }
    }
  },
  plugins: [decor]
});

new Chart(document.getElementById('chartB'), {
  type: 'scatter',
  data: {
    datasets: [
      line('R=0.66 fit', fitDE, PURPLE, 2.8, [12, 8], 0),
      line('R=0.04 fit', fitAll, PINK, 2.8, [12, 8], 0),
      line('y = 0', zeroH, '#000', 1.5, [], 1),
      line('x = 0', zeroV, '#000', 1.5, [], 1),
      dots('TE transcript', teB, GREEN, 2),
      dots('mitochondrial transcripts', mitoB, ORANGE, 3),
      dots('genic transcripts', genicB, BLUE, 4),
      dots('all transcripts', greyB, GREY, 5)
    ]
  },
  options: {
    ...common,
    layout: { padding: { left: 0, top: 44.3, right: 1, bottom: 0 } },
    scales: axes([-6.61, 5.26], [-5.61, 3.42], xTicksB, yTicksB, 106.3),
    plugins: {
      legend: { display: false },
      tooltip: { enabled: false },
      decor: {
        letter: ['B', 12, 40],
        xTitle: [xTitleB, 443, 780],
        yTitle: [yTitleB, 31.5, 368],
        legend: { dotX: 152, textX: 180, y: [576.7, 612, 647.5] },
        notes: [
          { text: statAll, x: 142, y: 80, color: PINK, font: 'bold 25px ' + FONT },
          { text: statDE, x: 142, y: 113, color: '#9a48b0', stroke: '#6b2c7c', font: '25.5px ' + FONT }
        ]
      }
    }
  },
  plugins: [decor]
});
</script>
</body>
</html>
